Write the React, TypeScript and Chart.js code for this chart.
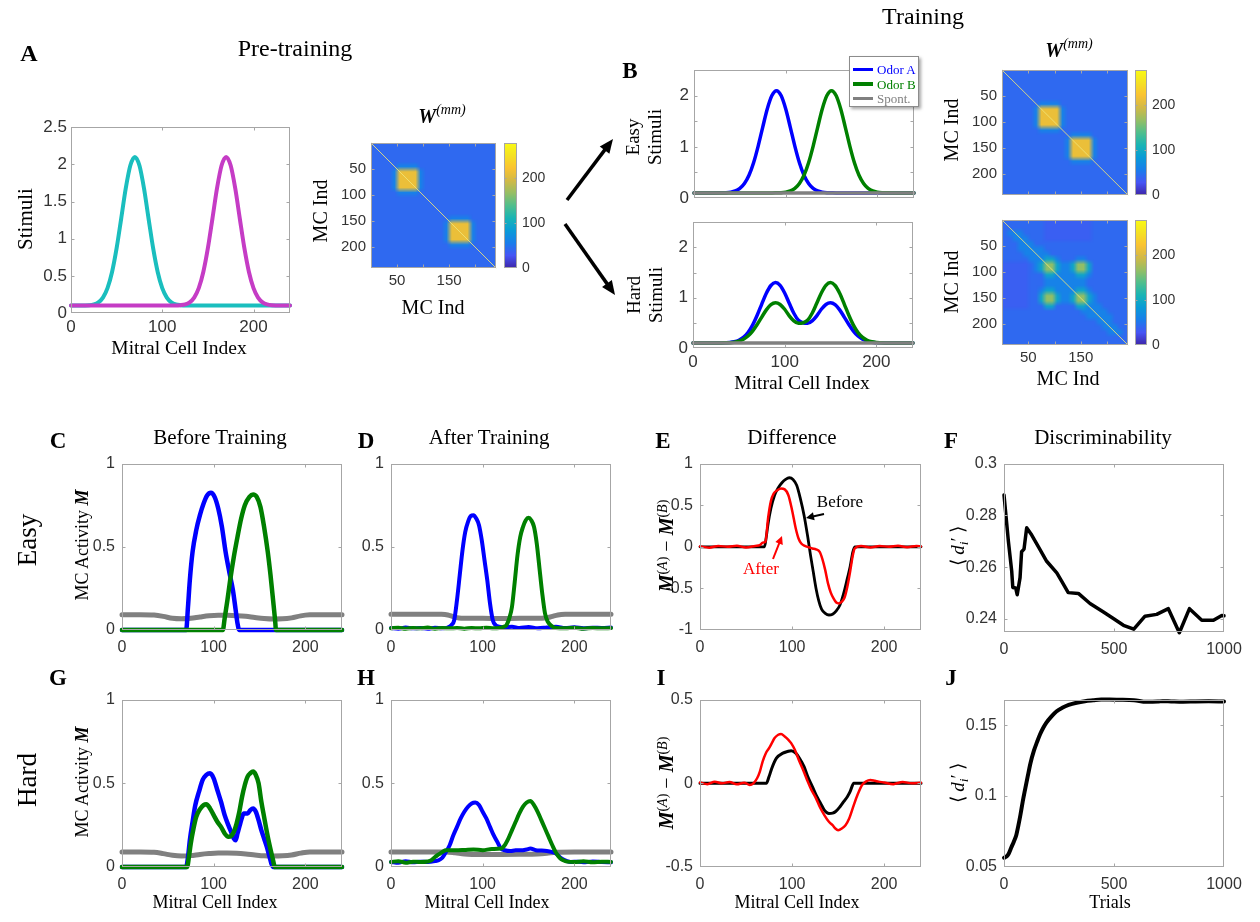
import React, { useEffect, useRef } from "react";
import { Chart, registerables } from "chart.js";

Chart.register(...registerables);

const SANS = "'Liberation Sans', Arial, sans-serif";
const SERIF = "'Liberation Serif', 'Times New Roman', serif";
const TICK = "#333333";
const BOX = "#a6a6a6";
const BLUE = "#0000ff";
const GREEN = "#008000";
const GRAY = "#808080";
const CYAN = "#1abebe";
const MAGENTA = "#c53cc5";
const RED = "#ff0000";
const BLACK = "#000000";

// ---------------- Panel A (pre-training stimuli) ----------------
const A_X = [0, 10, 20, 25, 30, 35, 40, 45, 50, 55, 60, 65, 70, 75, 80, 85, 90, 95, 100, 105, 110, 115, 120, 125, 130, 135, 140, 145, 150, 155, 160, 165, 170, 175, 180, 185, 190, 195, 200, 205, 210, 215, 220, 230, 240];
const A_CYAN = [0.1, 0.1, 0.105, 0.116, 0.144, 0.208, 0.334, 0.552, 0.872, 1.27, 1.676, 1.984, 2.1, 1.984, 1.676, 1.27, 0.872, 0.552, 0.334, 0.208, 0.144, 0.116, 0.105, 0.1, 0.1, 0.1, 0.1, 0.1, 0.1, 0.1, 0.1, 0.1, 0.1, 0.1, 0.1, 0.1, 0.1, 0.1, 0.1, 0.1, 0.1, 0.1, 0.1, 0.1, 0.1];
const A_MAGENTA = [0.1, 0.1, 0.1, 0.1, 0.1, 0.1, 0.1, 0.1, 0.1, 0.1, 0.1, 0.1, 0.1, 0.1, 0.1, 0.1, 0.1, 0.1, 0.1, 0.1, 0.1, 0.1, 0.105, 0.116, 0.144, 0.208, 0.334, 0.552, 0.872, 1.27, 1.676, 1.984, 2.1, 1.984, 1.676, 1.27, 0.872, 0.552, 0.334, 0.208, 0.144, 0.116, 0.105, 0.1, 0.1];
const A_XTICKS = [0, 100, 200];
const A_XLABELS = ["0", "100", "200"];
const A_YTICKS = [0, 0.5, 1, 1.5, 2, 2.5];
const A_YLABELS = ["0", "0.5", "1", "1.5", "2", "2.5"];

// ---------------- Panel B (training stimuli) ----------------
const B_X = [0, 10, 20, 30, 35, 40, 45, 50, 55, 60, 65, 70, 75, 80, 85, 90, 95, 100, 105, 110, 115, 120, 125, 130, 135, 140, 145, 150, 155, 160, 165, 170, 175, 180, 185, 190, 195, 200, 205, 210, 220, 230, 240];
const B_EASY_A = [0.1, 0.1, 0.1, 0.102, 0.105, 0.115, 0.138, 0.188, 0.283, 0.444, 0.69, 1.016, 1.388, 1.746, 2.004, 2.1, 2.004, 1.746, 1.388, 1.016, 0.69, 0.444, 0.283, 0.188, 0.138, 0.115, 0.105, 0.102, 0.1, 0.1, 0.1, 0.1, 0.1, 0.1, 0.1, 0.1, 0.1, 0.1, 0.1, 0.1, 0.1, 0.1, 0.1];
const B_EASY_B = [0.1, 0.1, 0.1, 0.1, 0.1, 0.1, 0.1, 0.1, 0.1, 0.1, 0.1, 0.1, 0.1, 0.1, 0.1, 0.102, 0.105, 0.115, 0.138, 0.188, 0.283, 0.444, 0.69, 1.016, 1.388, 1.746, 2.004, 2.1, 2.004, 1.746, 1.388, 1.016, 0.69, 0.444, 0.283, 0.188, 0.138, 0.115, 0.105, 0.102, 0.1, 0.1, 0.1];
const B_HARD_A = [0.1, 0.1, 0.1, 0.101, 0.104, 0.109, 0.123, 0.153, 0.21, 0.306, 0.454, 0.65, 0.873, 1.088, 1.242, 1.3, 1.245, 1.094, 0.89, 0.69, 0.55, 0.5, 0.49, 0.54, 0.64, 0.77, 0.865, 0.9, 0.862, 0.758, 0.615, 0.466, 0.336, 0.238, 0.173, 0.135, 0.115, 0.106, 0.102, 0.1, 0.1, 0.1, 0.1];
const B_HARD_B = [0.1, 0.1, 0.1, 0.1, 0.102, 0.106, 0.115, 0.135, 0.173, 0.238, 0.336, 0.466, 0.615, 0.758, 0.862, 0.9, 0.865, 0.77, 0.64, 0.54, 0.49, 0.5, 0.55, 0.69, 0.89, 1.094, 1.245, 1.3, 1.242, 1.088, 0.873, 0.65, 0.454, 0.306, 0.21, 0.153, 0.123, 0.109, 0.104, 0.101, 0.1, 0.1, 0.1];
const B_SPONT_X = [0, 240];
const B_SPONT = [0.1, 0.1];
const B_YTICKS = [0, 0.5, 1, 1.5, 2, 2.5];
const B_YLABELS = ["0", "", "1", "", "2", ""];
const B_TOP_XLABELS = ["", "", ""];

// ---------------- W(mm) matrices (24 x 24 cells of 10 MC each) ----------------
const W_LEVELS: Record<string, number> = { "1": 35, "2": 42, "3": 60, "4": 95, "6": 165, "9": 212 };
const W_MAX = 278;
const W_PRE = [
  "222222222222222222222222",
  "222222222222222222222222",
  "222222222222222222222222",
  "222222222222222222222222",
  "222223333222222222222222",
  "222239999322222222222222",
  "222239999322222222222222",
  "222239999322222222222222",
  "222239999322222222222222",
  "222223333222222222222222",
  "222222222222222222222222",
  "222222222222222222222222",
  "222222222222222222222222",
  "222222222222222222222222",
  "222222222222222333322222",
  "222222222222223999932222",
  "222222222222223999932222",
  "222222222222223999932222",
  "222222222222223999932222",
  "222222222222222333322222",
  "222222222222222222222222",
  "222222222222222222222222",
  "222222222222222222222222",
  "222222222222222222222222",
];
const W_EASY = [
  "222222222222222222222222",
  "222222222222222222222222",
  "222222222222222222222222",
  "222222222222222222222222",
  "222222222222222222222222",
  "222222222222222222222222",
  "222222233332222222222222",
  "222222399993222222222222",
  "222222399993222222222222",
  "222222399993222222222222",
  "222222399993222222222222",
  "222222233332222222222222",
  "222222222222233332222222",
  "222222222222399993222222",
  "222222222222399993222222",
  "222222222222399993222222",
  "222222222222399993222222",
  "222222222222233332222222",
  "222222222222222222222222",
  "222222222222222222222222",
  "222222222222222222222222",
  "222222222222222222222222",
  "222222222222222222222222",
  "222222222222222222222222",
];
const W_HARD = [
  "222222221111111112222222",
  "222222221111111112222222",
  "233322221111111112222222",
  "223332221111111112222222",
  "222333222222222222222222",
  "222333332222222222222222",
  "222233333222222222222222",
  "222223334432223322222222",
  "111112346643346642222222",
  "111112346643346642222222",
  "111112224433334432222222",
  "111112223333333322222222",
  "111112223333333322222222",
  "111112234433334432222222",
  "111112246643346643222222",
  "111112246643346643222222",
  "111112224422224433322222",
  "222222222222222333332222",
  "222222222222222233333222",
  "222222222222222222333222",
  "222222222222222222233322",
  "222222222222222222223332",
  "222222222222222222222222",
  "222222222222222222222222",
];
const DIAG_X = [0, 240];
const DIAG_Y = [0, 240];
const W_TICKS = [50, 100, 150, 200];
const W_YLABELS = ["50", "100", "150", "200"];
const W_XLABELS = ["50", "", "150", ""];
const W_NOXLABELS = ["", "", "", ""];
const CB_TICKS = [0, 100, 200];
const CB_LABELS = ["0", "100", "200"];

// ---------------- Panel C (easy, before) ----------------
const C_A_X = [0, 70, 72, 74, 77, 81, 85, 89, 93, 97, 101, 105, 109, 113, 117, 121, 124, 126, 128, 240];
const C_A = [0, 0, 0.14, 0.3, 0.47, 0.6, 0.69, 0.76, 0.81, 0.825, 0.8, 0.73, 0.62, 0.47, 0.35, 0.24, 0.12, 0.04, 0, 0];
const C_B_X = [0, 110, 112, 115, 118, 122, 126, 130, 134, 139, 143, 147, 151, 155, 159, 162, 165, 167, 168, 240];
const C_B = [0, 0, 0.07, 0.18, 0.3, 0.44, 0.56, 0.67, 0.75, 0.8, 0.815, 0.8, 0.74, 0.62, 0.47, 0.33, 0.17, 0.06, 0, 0];
const C_S_X = [0, 20, 35, 45, 55, 65, 75, 85, 95, 105, 115, 125, 135, 145, 155, 165, 175, 185, 195, 205, 215, 240];
const C_S = [0.092, 0.092, 0.09, 0.082, 0.07, 0.067, 0.07, 0.078, 0.085, 0.088, 0.088, 0.086, 0.082, 0.075, 0.069, 0.066, 0.067, 0.073, 0.085, 0.091, 0.092, 0.092];

// ---------------- Panel D (easy, after) ----------------
const D_A_X = [0, 8, 16, 24, 32, 40, 48, 56, 62, 66, 69, 72, 75, 78, 81, 84, 87, 90, 93, 96, 99, 102, 105, 108, 111, 114, 118, 124, 132, 140, 150, 160, 170, 180, 190, 200, 210, 220, 230, 240];
const D_A = [0.012, 0.008, 0.015, 0.01, 0.012, 0.008, 0.014, 0.01, 0.015, 0.03, 0.06, 0.18, 0.33, 0.48, 0.59, 0.65, 0.685, 0.69, 0.67, 0.63, 0.54, 0.42, 0.3, 0.16, 0.06, 0.03, 0.02, 0.015, 0.02, 0.012, 0.018, 0.01, 0.015, 0.02, 0.012, 0.016, 0.01, 0.014, 0.012, 0.015];
const D_B_X = [0, 8, 16, 24, 32, 40, 48, 56, 64, 72, 80, 88, 96, 104, 112, 118, 122, 126, 129, 132, 135, 138, 141, 144, 147, 150, 153, 156, 159, 162, 165, 168, 171, 175, 180, 190, 200, 210, 220, 230, 240];
const D_B = [0.01, 0.014, 0.008, 0.012, 0.01, 0.015, 0.008, 0.012, 0.01, 0.012, 0.008, 0.012, 0.01, 0.013, 0.01, 0.012, 0.018, 0.03, 0.07, 0.14, 0.29, 0.45, 0.56, 0.62, 0.66, 0.675, 0.66, 0.62, 0.52, 0.37, 0.22, 0.1, 0.05, 0.025, 0.012, 0.01, 0.014, 0.008, 0.012, 0.01, 0.012];
const D_S_X = [0, 20, 40, 55, 62, 68, 74, 80, 100, 120, 140, 160, 168, 175, 182, 190, 210, 240];
const D_S = [0.095, 0.095, 0.095, 0.094, 0.09, 0.08, 0.072, 0.07, 0.07, 0.069, 0.07, 0.07, 0.072, 0.08, 0.09, 0.094, 0.095, 0.095];

// ---------------- Panel E (easy, difference) ----------------
const E_BEFORE_X = [0, 70, 72, 74, 77, 81, 85, 89, 93, 97, 101, 105, 109, 113, 117, 120, 123, 126, 129, 132, 136, 140, 144, 148, 152, 156, 160, 163, 166, 168, 240];
const E_BEFORE = [0, 0, 0.12, 0.28, 0.46, 0.62, 0.71, 0.77, 0.81, 0.83, 0.81, 0.74, 0.58, 0.38, 0.12, -0.1, -0.3, -0.5, -0.65, -0.75, -0.8, -0.82, -0.81, -0.77, -0.7, -0.56, -0.38, -0.24, -0.06, 0, 0];
const E_AFTER_X = [0, 10, 20, 30, 40, 50, 60, 65, 68, 71, 74, 77, 80, 84, 88, 92, 96, 100, 104, 107, 110, 114, 118, 122, 126, 130, 133, 136, 139, 142, 145, 148, 151, 154, 157, 160, 163, 166, 168, 175, 185, 195, 205, 215, 225, 235, 240];
const E_AFTER = [0.005, -0.01, 0.01, 0, 0.012, -0.008, 0.01, 0.02, 0.05, 0.06, 0.35, 0.55, 0.64, 0.68, 0.7, 0.69, 0.62, 0.44, 0.22, 0.1, 0.04, 0.01, -0.005, -0.02, -0.03, -0.06, -0.15, -0.28, -0.44, -0.55, -0.62, -0.67, -0.68, -0.66, -0.61, -0.48, -0.3, -0.1, -0.02, 0.01, -0.008, 0.01, 0, 0.012, -0.005, 0.01, 0.005];

// ---------------- Panel F (easy, discriminability) ----------------
const F_TRIALS = [0, 20, 35, 40, 53, 60, 73, 80, 91, 103, 126, 156, 194, 240, 262, 292, 338, 391, 452, 497, 543, 590, 641, 694, 747, 797, 843, 899, 952, 990, 1000];
const F_D = [0.2879, 0.27, 0.2585, 0.2522, 0.252, 0.2494, 0.256, 0.266, 0.267, 0.2752, 0.2724, 0.268, 0.2623, 0.2578, 0.2546, 0.2502, 0.2499, 0.246, 0.2427, 0.2402, 0.2376, 0.2361, 0.2411, 0.2418, 0.244, 0.2347, 0.244, 0.2395, 0.2395, 0.2414, 0.2413];

// ---------------- Panel G (hard, before) ----------------
const G_A_X = [0, 70, 72, 74, 77, 80, 84, 88, 92, 96, 100, 104, 108, 112, 116, 119, 122, 124, 126, 129, 133, 137, 140, 143, 146, 149, 152, 155, 158, 161, 163, 165, 240];
const G_A = [0, 0, 0.06, 0.16, 0.27, 0.37, 0.45, 0.52, 0.55, 0.56, 0.53, 0.46, 0.39, 0.31, 0.25, 0.21, 0.17, 0.16, 0.2, 0.26, 0.32, 0.32, 0.34, 0.35, 0.33, 0.28, 0.22, 0.17, 0.12, 0.06, 0.02, 0, 0];
const G_B_X = [0, 71, 73, 75, 78, 81, 85, 89, 92, 96, 100, 104, 108, 112, 116, 119, 122, 125, 128, 131, 134, 137, 140, 143, 146, 149, 152, 155, 158, 161, 164, 167, 240];
const G_B = [0, 0, 0.06, 0.14, 0.23, 0.3, 0.345, 0.37, 0.375, 0.35, 0.31, 0.27, 0.24, 0.2, 0.18, 0.185, 0.21, 0.26, 0.33, 0.42, 0.49, 0.54, 0.56, 0.57, 0.55, 0.5, 0.39, 0.3, 0.21, 0.13, 0.06, 0, 0];
const G_S_X = [0, 20, 35, 45, 55, 65, 75, 85, 95, 105, 115, 125, 135, 145, 155, 165, 175, 185, 195, 205, 215, 240];
const G_S = [0.09, 0.09, 0.088, 0.08, 0.07, 0.066, 0.068, 0.075, 0.08, 0.083, 0.083, 0.082, 0.078, 0.072, 0.067, 0.066, 0.067, 0.072, 0.083, 0.09, 0.09, 0.09];

// ---------------- Panel H (hard, after) ----------------
const H_A_X = [0, 8, 16, 24, 32, 40, 48, 52, 56, 60, 64, 68, 72, 76, 80, 84, 88, 92, 96, 100, 104, 108, 112, 116, 120, 124, 130, 136, 142, 148, 152, 158, 164, 170, 175, 180, 184, 188, 192, 196, 204, 212, 220, 230, 240];
const H_A = [0.03, 0.025, 0.035, 0.028, 0.032, 0.03, 0.035, 0.04, 0.055, 0.09, 0.13, 0.19, 0.24, 0.29, 0.33, 0.36, 0.38, 0.385, 0.37, 0.33, 0.29, 0.24, 0.19, 0.15, 0.11, 0.1, 0.095, 0.1, 0.1, 0.105, 0.11, 0.1, 0.098, 0.095, 0.09, 0.08, 0.06, 0.045, 0.035, 0.03, 0.032, 0.028, 0.033, 0.03, 0.028];
const H_B_X = [0, 8, 16, 24, 32, 40, 44, 48, 52, 56, 60, 70, 80, 90, 100, 110, 120, 124, 128, 132, 136, 140, 144, 148, 152, 156, 160, 164, 168, 172, 176, 180, 184, 188, 192, 200, 210, 220, 230, 240];
const H_B = [0.03, 0.035, 0.025, 0.032, 0.03, 0.033, 0.04, 0.06, 0.075, 0.09, 0.1, 0.1, 0.102, 0.105, 0.1, 0.108, 0.11, 0.13, 0.17, 0.22, 0.27, 0.32, 0.36, 0.385, 0.395, 0.37, 0.33, 0.28, 0.23, 0.18, 0.13, 0.085, 0.055, 0.04, 0.032, 0.03, 0.034, 0.028, 0.032, 0.03];
const H_S_X = [0, 30, 60, 70, 80, 100, 120, 140, 160, 170, 180, 200, 240];
const H_S = [0.09, 0.09, 0.09, 0.085, 0.078, 0.075, 0.075, 0.076, 0.078, 0.082, 0.088, 0.09, 0.09];

// ---------------- Panel I (hard, difference) ----------------
const I_BEFORE_X = [0, 72, 75, 78, 83, 90, 95, 99, 104, 108, 113, 117, 122, 126, 131, 135, 140, 144, 147, 152, 156, 160, 163, 167, 240];
const I_BEFORE = [0, 0, 0.04, 0.09, 0.15, 0.18, 0.19, 0.195, 0.18, 0.15, 0.1, 0.04, -0.02, -0.07, -0.12, -0.16, -0.18, -0.178, -0.17, -0.14, -0.11, -0.08, -0.05, 0, 0];
const I_AFTER_X = [0, 8, 16, 24, 32, 40, 48, 54, 58, 62, 65, 68, 71.5, 75, 78, 81, 85, 88, 92, 96, 99, 103, 108, 112, 117, 121, 126, 130, 135, 140, 144, 147, 150, 154, 158, 162, 167, 171, 176, 180, 185, 190, 194, 200, 210, 220, 230, 240];
const I_AFTER = [0.005, -0.005, 0.01, 0, 0.008, -0.006, 0.004, -0.01, 0, 0.03, 0.07, 0.13, 0.18, 0.21, 0.24, 0.27, 0.29, 0.295, 0.28, 0.26, 0.24, 0.2, 0.13, 0.08, 0.01, -0.04, -0.09, -0.14, -0.19, -0.23, -0.25, -0.27, -0.28, -0.27, -0.25, -0.21, -0.13, -0.07, -0.01, 0.01, 0.02, 0.015, 0.01, 0.005, -0.005, 0.008, 0, 0.004];

// ---------------- Panel J (hard, discriminability) ----------------
const J_TRIALS = [0, 10, 20, 33, 45, 55, 65, 75, 85, 95, 108, 120, 136, 150, 164, 178, 192, 215, 238, 265, 294, 330, 368, 405, 442, 480, 520, 591, 647, 700, 721, 760, 814, 870, 930, 1000];
const J_D = [0.0565, 0.0572, 0.059, 0.0637, 0.068, 0.072, 0.079, 0.087, 0.096, 0.104, 0.114, 0.123, 0.132, 0.138, 0.1436, 0.148, 0.1516, 0.156, 0.1596, 0.1622, 0.1642, 0.1658, 0.1669, 0.1675, 0.168, 0.168, 0.1679, 0.1676, 0.1664, 0.1666, 0.1669, 0.1667, 0.1665, 0.1667, 0.1668, 0.1667];

// ---------------- common ticks ----------------
const MC_TICKS = [0, 100, 200];
const MC_LABELS = ["0", "100", "200"];
const ACT_TICKS = [0, 0.5, 1];
const ACT_LABELS = ["0", "0.5", "1"];
const E_YTICKS = [-1, -0.5, 0, 0.5, 1];
const E_YLABELS = ["-1", "-0.5", "0", "0.5", "1"];
const I_YTICKS = [-0.5, 0, 0.5];
const I_YLABELS = ["-0.5", "0", "0.5"];
const TRIAL_TICKS = [0, 500, 1000];
const TRIAL_LABELS = ["0", "500", "1000"];
const F_YTICKS = [0.24, 0.26, 0.28, 0.3];
const F_YLABELS = ["0.24", "0.26", "0.28", "0.3"];
const J_YTICKS = [0.05, 0.1, 0.15];
const J_YLABELS = ["0.05", "0.1", "0.15"];

// ---------------- colormap (parula-like) ----------------
const CMAP: number[][] = [
  [0, 62, 38, 168], [0.1, 70, 85, 245], [0.2, 25, 125, 235], [0.3, 10, 155, 215], [0.4, 25, 180, 180],
  [0.5, 80, 190, 140], [0.6, 150, 190, 100], [0.7, 210, 185, 70], [0.8, 250, 195, 50], [0.9, 245, 225, 35], [1, 249, 250, 20],
];
function cmap(t: number): number[] {
  const v = Math.max(0, Math.min(1, t));
  for (let i = 1; i < CMAP.length; i++) {
    if (v <= CMAP[i][0]) {
      const a = CMAP[i - 1], b = CMAP[i];
      const f = (v - a[0]) / (b[0] - a[0]);
      return [a[1] + f * (b[1] - a[1]), a[2] + f * (b[2] - a[2]), a[3] + f * (b[3] - a[3])];
    }
  }
  const l = CMAP[CMAP.length - 1];
  return [l[1], l[2], l[3]];
}

// ---------------- plugins ----------------
const boxPlugin = {
  id: "mbox",
  afterDatasetsDraw(chart: any, _args: any, opts: any) {
    const { ctx, chartArea: a } = chart;
    const L = opts && opts.len != null ? opts.len : 3;
    ctx.save();
    ctx.strokeStyle = BOX;
    ctx.lineWidth = 1;
    const l = Math.round(a.left) + 0.5, t = Math.round(a.top) + 0.5;
    const r = Math.round(a.right) - 0.5, b = Math.round(a.bottom) - 0.5;
    ctx.strokeRect(l, t, r - l, b - t);
    ctx.beginPath();
    const xs = chart.scales.x, ys = chart.scales.y;
    if (xs && xs.options.display !== false) {
      for (const tk of xs.ticks) {
        const p = Math.round(xs.getPixelForValue(tk.value)) + 0.5;
        if (p <= l + 1 || p >= r - 1) continue;
        ctx.moveTo(p, b); ctx.lineTo(p, b - L);
        ctx.moveTo(p, t); ctx.lineTo(p, t + L);
      }
    }
    if (ys) {
      for (const tk of ys.ticks) {
        const p = Math.round(ys.getPixelForValue(tk.value)) + 0.5;
        if (p <= t + 1 || p >= b - 1) continue;
        ctx.moveTo(l, p); ctx.lineTo(l + L, p);
        ctx.moveTo(r, p); ctx.lineTo(r - L, p);
      }
    }
    ctx.stroke();
    ctx.restore();
  },
};

const heatPlugin = {
  id: "heat",
  beforeDatasetsDraw(chart: any, _args: any, opts: any) {
    if (!opts || !opts.grid) return;
    const grid: string[] = opts.grid;
    const n = grid.length, m = grid[0].length;
    const off = document.createElement("canvas");
    off.width = m; off.height = n;
    const octx = off.getContext("2d") as CanvasRenderingContext2D;
    const img = octx.createImageData(m, n);
    for (let r = 0; r < n; r++) {
      for (let c = 0; c < m; c++) {
        const v = W_LEVELS[grid[r][c]] ?? 42;
        const col = cmap(v / W_MAX);
        const k = (r * m + c) * 4;
        img.data[k] = col[0]; img.data[k + 1] = col[1]; img.data[k + 2] = col[2]; img.data[k + 3] = 255;
      }
    }
    octx.putImageData(img, 0, 0);
    const { ctx, chartArea: a } = chart;
    const xs = chart.scales.x, ys = chart.scales.y;
    const x0 = xs.getPixelForValue(0), x1 = xs.getPixelForValue(240);
    const y0 = ys.getPixelForValue(0), y1 = ys.getPixelForValue(240);
    ctx.save();
    ctx.beginPath();
    ctx.rect(a.left, a.top, a.right - a.left, a.bottom - a.top);
    ctx.clip();
    ctx.imageSmoothingEnabled = true;
    ctx.drawImage(off, Math.min(x0, x1), Math.min(y0, y1), Math.abs(x1 - x0), Math.abs(y1 - y0));
    ctx.restore();
  },
};

const cbarPlugin = {
  id: "cbar",
  beforeDatasetsDraw(chart: any, _args: any, opts: any) {
    if (!opts || !opts.on) return;
    const { ctx, chartArea: a } = chart;
    const ys = chart.scales.y;
    const yb = ys.getPixelForValue(0), yt = ys.getPixelForValue(W_MAX);
    const g = ctx.createLinearGradient(0, yb, 0, yt);
    for (const s of CMAP) g.addColorStop(s[0], `rgb(${s[1]},${s[2]},${s[3]})`);
    ctx.save();
    ctx.fillStyle = g;
    ctx.fillRect(a.left, a.top, a.right - a.left, a.bottom - a.top);
    ctx.restore();
  },
};

// ---------------- specs ----------------
type Rect = { l: number; t: number; w: number; h: number };
type Axis = { min: number; max: number; ticks: number[]; labels: string[]; pad: number; reverse?: boolean };
type Line = { xs: number[]; ys: number[]; color: string; width: number; straight?: boolean };
type Spec = { kind: "line" | "heat" | "cbar"; rect: Rect; x?: Axis; y: Axis; font: number; lines: Line[]; grid?: string[] };

const PAD = { l: 60, t: 14, r: 32, b: 40 };
const CBPAD = { l: 4, t: 14, r: 45, b: 14 };

const mcAxis = (labels: string[], pad: number): Axis => ({ min: 0, max: 240, ticks: MC_TICKS, labels, pad });
const wAxisX = (labels: string[]): Axis => ({ min: 0, max: 240, ticks: W_TICKS, labels, pad: 4 });
const wAxisY: Axis = { min: 0, max: 240, ticks: W_TICKS, labels: W_YLABELS, pad: 5, reverse: true };
const cbAxis: Axis = { min: 0, max: W_MAX, ticks: CB_TICKS, labels: CB_LABELS, pad: 5 };
const diag: Line = { xs: DIAG_X, ys: DIAG_Y, color: "rgba(238,228,120,0.85)", width: 1, straight: true };

// lines are listed bottom-to-top (later entries are drawn over earlier ones)
const SPECS: Spec[] = [
  {
    kind: "line", rect: { l: 71, t: 127, w: 219, h: 186 }, font: 17,
    x: { min: 0, max: 240, ticks: A_XTICKS, labels: A_XLABELS, pad: 4 },
    y: { min: 0, max: 2.5, ticks: A_YTICKS, labels: A_YLABELS, pad: 4 },
    lines: [
      { xs: A_X, ys: A_CYAN, color: CYAN, width: 4 },
      { xs: A_X, ys: A_MAGENTA, color: MAGENTA, width: 4 },
    ],
  },
  { kind: "heat", rect: { l: 371, t: 143, w: 125, h: 125 }, font: 15, x: wAxisX(W_XLABELS), y: wAxisY, lines: [diag], grid: W_PRE },
  { kind: "cbar", rect: { l: 504, t: 143, w: 13, h: 125 }, font: 14, y: cbAxis, lines: [] },
  {
    kind: "line", rect: { l: 694, t: 69, w: 220, h: 129 }, font: 17,
    x: mcAxis(B_TOP_XLABELS, 4),
    y: { min: 0, max: 2.5, ticks: B_YTICKS, labels: B_YLABELS, pad: 5 },
    lines: [
      { xs: B_X, ys: B_EASY_A, color: BLUE, width: 3.5 },
      { xs: B_X, ys: B_EASY_B, color: GREEN, width: 3.5 },
      { xs: B_SPONT_X, ys: B_SPONT, color: GRAY, width: 3.5, straight: true },
    ],
  },
  {
    kind: "line", rect: { l: 693, t: 221, w: 220, h: 127 }, font: 17,
    x: mcAxis(MC_LABELS, 4),
    y: { min: 0, max: 2.5, ticks: B_YTICKS, labels: B_YLABELS, pad: 5 },
    lines: [
      { xs: B_X, ys: B_HARD_A, color: BLUE, width: 3.5 },
      { xs: B_X, ys: B_HARD_B, color: GREEN, width: 3.5 },
      { xs: B_SPONT_X, ys: B_SPONT, color: GRAY, width: 3.5, straight: true },
    ],
  },
  { kind: "heat", rect: { l: 1002, t: 70, w: 126, h: 125 }, font: 15, x: wAxisX(W_NOXLABELS), y: wAxisY, lines: [diag], grid: W_EASY },
  { kind: "cbar", rect: { l: 1135, t: 70, w: 12, h: 125 }, font: 14, y: cbAxis, lines: [] },
  { kind: "heat", rect: { l: 1002, t: 220, w: 126, h: 125 }, font: 15, x: wAxisX(W_XLABELS), y: wAxisY, lines: [diag], grid: W_HARD },
  { kind: "cbar", rect: { l: 1135, t: 220, w: 12, h: 125 }, font: 14, y: cbAxis, lines: [] },
  {
    kind: "line", rect: { l: 122, t: 461, w: 220, h: 169 }, font: 16,
    x: mcAxis(MC_LABELS, 8), y: { min: 0, max: 1, ticks: ACT_TICKS, labels: ACT_LABELS, pad: 7 },
    lines: [
      { xs: C_S_X, ys: C_S, color: GRAY, width: 5 },
      { xs: C_A_X, ys: C_A, color: BLUE, width: 4.5 },
      { xs: C_B_X, ys: C_B, color: GREEN, width: 4.5 },
    ],
  },
  {
    kind: "line", rect: { l: 391, t: 461, w: 220, h: 169 }, font: 16,
    x: mcAxis(MC_LABELS, 8), y: { min: 0, max: 1, ticks: ACT_TICKS, labels: ACT_LABELS, pad: 7 },
    lines: [
      { xs: D_S_X, ys: D_S, color: GRAY, width: 5 },
      { xs: D_A_X, ys: D_A, color: BLUE, width: 4 },
      { xs: D_B_X, ys: D_B, color: GREEN, width: 4 },
    ],
  },
  {
    kind: "line", rect: { l: 700, t: 461, w: 221, h: 169 }, font: 16,
    x: mcAxis(MC_LABELS, 8), y: { min: -1, max: 1, ticks: E_YTICKS, labels: E_YLABELS, pad: 7 },
    lines: [
      { xs: E_BEFORE_X, ys: E_BEFORE, color: BLACK, width: 2.8 },
      { xs: E_AFTER_X, ys: E_AFTER, color: RED, width: 2.5 },
    ],
  },
  {
    kind: "line", rect: { l: 1004, t: 461, w: 220, h: 171 }, font: 16,
    x: { min: 0, max: 1000, ticks: TRIAL_TICKS, labels: TRIAL_LABELS, pad: 8 },
    y: { min: 0.235, max: 0.3, ticks: F_YTICKS, labels: F_YLABELS, pad: 7 },
    lines: [{ xs: F_TRIALS, ys: F_D, color: BLACK, width: 3.5, straight: true }],
  },
  {
    kind: "line", rect: { l: 122, t: 697, w: 220, h: 170 }, font: 16,
    x: mcAxis(MC_LABELS, 8), y: { min: 0, max: 1, ticks: ACT_TICKS, labels: ACT_LABELS, pad: 7 },
    lines: [
      { xs: G_S_X, ys: G_S, color: GRAY, width: 5 },
      { xs: G_A_X, ys: G_A, color: BLUE, width: 4.5 },
      { xs: G_B_X, ys: G_B, color: GREEN, width: 4.5 },
    ],
  },
  {
    kind: "line", rect: { l: 391, t: 697, w: 220, h: 170 }, font: 16,
    x: mcAxis(MC_LABELS, 8), y: { min: 0, max: 1, ticks: ACT_TICKS, labels: ACT_LABELS, pad: 7 },
    lines: [
      { xs: H_S_X, ys: H_S, color: GRAY, width: 5 },
      { xs: H_A_X, ys: H_A, color: BLUE, width: 4 },
      { xs: H_B_X, ys: H_B, color: GREEN, width: 4 },
    ],
  },
  {
    kind: "line", rect: { l: 700, t: 697, w: 221, h: 170 }, font: 16,
    x: mcAxis(MC_LABELS, 8), y: { min: -0.5, max: 0.5, ticks: I_YTICKS, labels: I_YLABELS, pad: 7 },
    lines: [
      { xs: I_BEFORE_X, ys: I_BEFORE, color: BLACK, width: 3 },
      { xs: I_AFTER_X, ys: I_AFTER, color: RED, width: 2.5 },
    ],
  },
  {
    kind: "line", rect: { l: 1004, t: 697, w: 220, h: 170 }, font: 16,
    x: { min: 0, max: 1000, ticks: TRIAL_TICKS, labels: TRIAL_LABELS, pad: 8 },
    y: { min: 0.05, max: 0.168, ticks: J_YTICKS, labels: J_YLABELS, pad: 7 },
    lines: [{ xs: J_TRIALS, ys: J_D, color: BLACK, width: 4 }],
  },
];

function padOf(s: Spec) {
  return s.kind === "cbar" ? CBPAD : PAD;
}

function buildConfig(s: Spec): any {
  const font = { family: SANS, size: s.font };
  const fmt = (ax: Axis) => (v: any) => {
    const i = ax.ticks.indexOf(Number(v));
    return i >= 0 ? ax.labels[i] : "";
  };
  const setTicks = (ax: Axis) => (sc: any) => {
    sc.ticks = ax.ticks.map((v) => ({ value: v }));
  };
  const base = {
    animation: false,
    responsive: false,
    devicePixelRatio: 1,
    events: [],
  };
  if (s.kind === "cbar") {
    return {
      type: "line",
      data: { datasets: [] },
      options: {
        ...base,
        layout: { padding: { left: CBPAD.l, top: CBPAD.t, right: 0, bottom: CBPAD.b } },
        plugins: { legend: { display: false }, tooltip: { enabled: false }, cbar: { on: true }, mbox: { len: 2 } },
        scales: {
          x: { type: "linear", display: false, min: 0, max: 1 },
          y: {
            type: "linear", position: "right", min: s.y.min, max: s.y.max,
            grid: { display: false, drawTicks: false }, border: { display: false },
            ticks: { font, color: TICK, padding: s.y.pad, autoSkip: false, callback: fmt(s.y) },
            afterBuildTicks: setTicks(s.y),
            afterFit: (sc: any) => { sc.width = CBPAD.r; },
          },
        },
      },
      plugins: [cbarPlugin, boxPlugin],
    };
  }
  const x = s.x as Axis;
  const n = s.lines.length;
  return {
    type: "line",
    data: {
      datasets: s.lines.map((l, idx) => ({
        data: l.xs.map((xv, i) => ({ x: xv, y: l.ys[i] })),
        order: n - idx,
        borderColor: l.color,
        borderWidth: l.width,
        pointRadius: 0,
        pointHoverRadius: 0,
        fill: false,
        tension: 0,
        clip: 6,
        cubicInterpolationMode: l.straight ? "default" : "monotone",
        borderJoinStyle: "round",
        borderCapStyle: "round",
      })),
    },
    options: {
      ...base,
      layout: { padding: { left: 0, top: PAD.t, right: PAD.r, bottom: 0 } },
      plugins: {
        legend: { display: false },
        tooltip: { enabled: false },
        mbox: { len: 3 },
        heat: s.grid ? { grid: s.grid } : {},
      },
      scales: {
        x: {
          type: "linear", min: x.min, max: x.max, reverse: !!x.reverse,
          grid: { display: false, drawTicks: false }, border: { display: false },
          ticks: { font, color: TICK, padding: x.pad, maxRotation: 0, minRotation: 0, autoSkip: false, callback: fmt(x) },
          afterBuildTicks: setTicks(x),
          afterFit: (sc: any) => { sc.height = PAD.b; },
        },
        y: {
          type: "linear", min: s.y.min, max: s.y.max, reverse: !!s.y.reverse,
          grid: { display: false, drawTicks: false }, border: { display: false },
          ticks: { font, color: TICK, padding: s.y.pad, autoSkip: false, callback: fmt(s.y) },
          afterBuildTicks: setTicks(s.y),
          afterFit: (sc: any) => { sc.width = PAD.l; },
        },
      },
    },
    plugins: [heatPlugin, boxPlugin],
  };
}

// ---------------- overlays ----------------
type TP = { x: number; y: number; size: number; rot?: number; bold?: boolean; italic?: boolean; color?: string; lh?: number; children: any };
function T({ x, y, size, rot, bold, italic, color, lh, children }: TP) {
  return (
    <div
      style={{
        position: "absolute", left: x, top: y,
        transform: `translate(-50%, -50%)${rot ? ` rotate(${rot}deg)` : ""}`,
        fontSize: size, lineHeight: lh ? `${lh}px` : 1, whiteSpace: "nowrap", textAlign: "center",
        fontWeight: bold ? "bold" : "normal", fontStyle: italic ? "italic" : "normal",
        color: color || "#000", fontFamily: SERIF,
      }}
    >
      {children}
    </div>
  );
}

const ARROWS = [
  { x1: 567, y1: 200, x2: 613, y2: 139, w: 3.5, len: 14, half: 6, color: BLACK },
  { x1: 565, y1: 224, x2: 615, y2: 295, w: 3.5, len: 14, half: 6, color: BLACK },
  { x1: 824, y1: 514, x2: 806, y2: 518, w: 2, len: 8, half: 4, color: BLACK },
  { x1: 773, y1: 559, x2: 782, y2: 536, w: 2, len: 8, half: 4, color: RED },
];

function arrowParts(a: any) {
  const dx = a.x2 - a.x1, dy = a.y2 - a.y1;
  const d = Math.hypot(dx, dy);
  const ux = dx / d, uy = dy / d;
  const bx = a.x2 - ux * a.len, by = a.y2 - uy * a.len;
  return {
    line: [a.x1, a.y1, bx + ux * 1, by + uy * 1],
    head: `${a.x2},${a.y2} ${bx - uy * a.half},${by + ux * a.half} ${bx + uy * a.half},${by - ux * a.half}`,
  };
}

const Wmm = ({ size }: { size: number }) => (
  <span>
    <span style={{ fontWeight: "bold", fontStyle: "italic", fontSize: size }}>W</span>
    <span style={{ fontStyle: "italic", fontSize: size * 0.7, position: "relative", top: -size * 0.45 }}>(mm)</span>
  </span>
);

const MAB = () => (
  <span>
    <b><i>M</i></b>
    <span style={{ fontSize: "0.7em", position: "relative", top: "-0.45em" }}>(<i>A</i>)</span>
    {" \u2212 "}
    <b><i>M</i></b>
    <span style={{ fontSize: "0.7em", position: "relative", top: "-0.45em" }}>(<i>B</i>)</span>
  </span>
);

const DPRIME = () => (
  <span>
    {"\u27E8 "}
    <i>d</i>
    <span style={{ fontSize: "0.7em", position: "relative", top: "0.3em" }}><i>i</i></span>
    <span>{"\u2032"}</span>
    {" \u27E9"}
  </span>
);

const LEGEND = [
  { label: "Odor A", color: BLUE },
  { label: "Odor B", color: GREEN },
  { label: "Spont.", color: GRAY },
];

export default function App() {
  const refs = useRef<(HTMLCanvasElement | null)[]>([]);
  useEffect(() => {
    const charts = SPECS.map((s, i) => {
      const c = refs.current[i];
      if (!c) return null;
      return new Chart(c, buildConfig(s));
    });
    return () => {
      charts.forEach((ch) => ch && ch.destroy());
    };
  }, []);

  return (
    <div style={{ position: "absolute", left: 0, top: 0, width: 1260, height: 922, background: "#fff", overflow: "hidden" }}>
      {SPECS.map((s, i) => {
        const P = padOf(s);
        const w = s.rect.w + P.l + P.r;
        const h = s.rect.h + P.t + P.b;
        return (
          <canvas
            key={i}
            ref={(el) => { refs.current[i] = el; }}
            width={w}
            height={h}
            style={{ position: "absolute", left: s.rect.l - P.l, top: s.rect.t - P.t, width: w, height: h }}
          />
        );
      })}

      <svg width={1260} height={922} style={{ position: "absolute", left: 0, top: 0, pointerEvents: "none" }}>
        {ARROWS.map((a, i) => {
          const p = arrowParts(a);
          return (
            <g key={i}>
              <line x1={p.line[0]} y1={p.line[1]} x2={p.line[2]} y2={p.line[3]} stroke={a.color} strokeWidth={a.w} />
              <polygon points={p.head} fill={a.color} />
            </g>
          );
        })}
      </svg>

      {/* legend of panel B */}
      <div style={{ position: "absolute", left: 849, top: 56, width: 70, height: 51, background: "#fff", border: "1px solid #8c8c8c", boxSizing: "border-box", boxShadow: "2px 2px 3px rgba(0,0,0,0.35)" }}>
        {LEGEND.map((it, i) => (
          <div key={i} style={{ position: "absolute", left: 3, top: 6 + i * 14.5, height: 13, display: "flex", alignItems: "center" }}>
            <div style={{ width: 20, height: 3.5, background: it.color, marginRight: 4 }} />
            <span style={{ fontFamily: SERIF, fontSize: 13, color: it.color, lineHeight: 1 }}>{it.label}</span>
          </div>
        ))}
      </div>

      {/* top row texts */}
      <T x={29} y={53} size={24} bold>A</T>
      <T x={295} y={48} size={24}>Pre-training</T>
      <T x={923} y={16} size={24}>Training</T>
      <T x={630} y={70} size={23} bold>B</T>
      <T x={25} y={219} size={21} rot={-90}>Stimuli</T>
      <T x={179} y={348} size={19.5}>Mitral Cell Index</T>
      <T x={442} y={116} size={20}><Wmm size={20} /></T>
      <T x={320} y={211} size={20} rot={-90}>MC Ind</T>
      <T x={433} y={307} size={20}>MC Ind</T>
      <T x={644} y={137} size={19} rot={-90} lh={22}>Easy<br />Stimuli</T>
      <T x={645} y={295} size={19} rot={-90} lh={22}>Hard<br />Stimuli</T>
      <T x={802} y={383} size={19.5}>Mitral Cell Index</T>
      <T x={1069} y={50} size={20}><Wmm size={20} /></T>
      <T x={951} y={130} size={20} rot={-90}>MC Ind</T>
      <T x={951} y={282} size={20} rot={-90}>MC Ind</T>
      <T x={1068} y={378} size={20}>MC Ind</T>

      {/* middle row texts */}
      <T x={58} y={440} size={23} bold>C</T>
      <T x={220} y={437} size={21}>Before Training</T>
      <T x={366} y={440} size={23} bold>D</T>
      <T x={489} y={437} size={21}>After Training</T>
      <T x={663} y={440} size={23} bold>E</T>
      <T x={792} y={437} size={21}>Difference</T>
      <T x={951} y={440} size={23} bold>F</T>
      <T x={1103} y={437} size={21}>Discriminability</T>
      <T x={27} y={540} size={27} rot={-90}>Easy</T>
      <T x={82} y={545} size={18} rot={-90}>MC Activity <b><i>M</i></b></T>
      <T x={666} y={546} size={20} rot={-90}><MAB /></T>
      <T x={957} y={546} size={19} rot={-90}><DPRIME /></T>
      <T x={840} y={501} size={17}>Before</T>
      <T x={761} y={568} size={17} color={RED}>After</T>

      {/* bottom row texts */}
      <T x={58} y={677} size={23} bold>G</T>
      <T x={366} y={677} size={23} bold>H</T>
      <T x={661} y={677} size={23} bold>I</T>
      <T x={951} y={677} size={23} bold>J</T>
      <T x={27} y={780} size={27} rot={-90}>Hard</T>
      <T x={82} y={782} size={18} rot={-90}>MC Activity <b><i>M</i></b></T>
      <T x={666} y={783} size={20} rot={-90}><MAB /></T>
      <T x={957} y={783} size={19} rot={-90}><DPRIME /></T>
      <T x={215} y={902} size={18}>Mitral Cell Index</T>
      <T x={487} y={902} size={18}>Mitral Cell Index</T>
      <T x={797} y={902} size={18}>Mitral Cell Index</T>
      <T x={1110} y={902} size={18}>Trials</T>
    </div>
  );
}
